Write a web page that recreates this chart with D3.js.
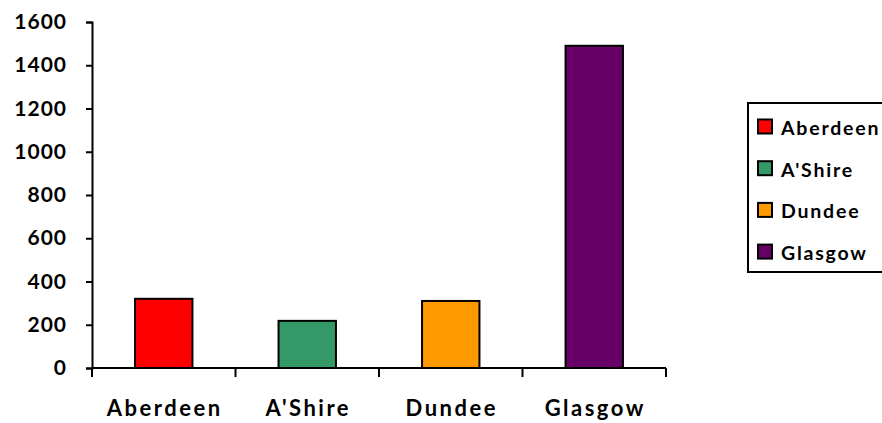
<!DOCTYPE html>
<html>
<head>
<meta charset="utf-8">
<script src="https://cdn.jsdelivr.net/npm/d3@7.9.0/dist/d3.min.js"></script>
<style>
  html, body { margin: 0; padding: 0; background: #fff; }
  svg { display: block; font-family: Lato, 'Open Sans', sans-serif; font-weight: bold; }
</style>
</head>
<body>
<div id="chart"></div>
<script>
// data
const regions = ['Aberdeen', "A'Shire", 'Dundee', 'Glasgow'];
const counts = [320, 218, 310, 1490];
const barColors = ['#ff0000', '#339966', '#ff9900', '#660066'];
const yTicks = [0, 200, 400, 600, 800, 1000, 1200, 1400, 1600];

const width = 882, height = 423;
const plot = { left: 92, right: 666, top: 22, bottom: 368 };

const svg = d3.select('#chart').append('svg')
  .attr('width', width)
  .attr('height', height);

const x = d3.scaleBand()
  .domain(regions)
  .range([plot.left, plot.right])
  .paddingInner(0.6)
  .paddingOuter(0.3);

const y = d3.scaleLinear()
  .domain([0, 1600])
  .range([plot.bottom, plot.top]);

/* ---------- bars ---------- */
svg.append('g')
  .selectAll('rect')
  .data(regions)
  .join('rect')
  .attr('x', d => x(d))
  .attr('y', (d, i) => y(counts[i]))
  .attr('width', x.bandwidth())
  .attr('height', (d, i) => y(0) - y(counts[i]))
  .attr('fill', (d, i) => barColors[i])
  .attr('stroke', '#000')
  .attr('stroke-width', 2);

/* ---------- y axis ---------- */
const yAxis = svg.append('g')
  .attr('transform', `translate(${plot.left},0)`)
  .call(d3.axisLeft(y).tickValues(yTicks).tickFormat(d3.format('d')).tickSize(6).tickPadding(19));
yAxis.select('.domain').attr('stroke-width', 2);
yAxis.selectAll('.tick line').attr('stroke-width', 2);
yAxis.selectAll('.tick text')
  .attr('font-size', 21)
  .attr('font-family', 'Lato, sans-serif')
  .attr('font-weight', 'bold')
  .attr('letter-spacing', 1)
  .attr('fill', '#000');

/* ---------- x axis (ticks between categories) ---------- */
const step = x.step();
const bounds = d3.range(regions.length + 1).map(i => plot.left + i * step);
const xg = svg.append('g');
xg.append('line')
  .attr('x1', plot.left).attr('x2', plot.right)
  .attr('y1', plot.bottom).attr('y2', plot.bottom)
  .attr('stroke', '#000').attr('stroke-width', 2);
xg.selectAll('line.tk')
  .data(bounds)
  .join('line')
  .attr('class', 'tk')
  .attr('x1', d => d).attr('x2', d => d)
  .attr('y1', plot.bottom).attr('y2', plot.bottom + 9)
  .attr('stroke', '#000').attr('stroke-width', 2);
xg.selectAll('text')
  .data(regions)
  .join('text')
  .attr('x', d => x(d) + x.bandwidth() / 2 + 1)
  .attr('y', 416)
  .attr('text-anchor', 'middle')
  .attr('font-size', 22)
  .attr('letter-spacing', 2.5)
  .text(d => d);

/* ---------- legend ---------- */
const legend = svg.append('g').attr('transform', 'translate(748,103)');
legend.append('rect')
  .attr('width', 160).attr('height', 169)
  .attr('fill', '#fff').attr('stroke', '#000').attr('stroke-width', 2);
const items = legend.selectAll('g.item')
  .data(regions)
  .join('g')
  .attr('class', 'item')
  .attr('transform', (d, i) => `translate(0,${23.5 + i * 41.7})`);
items.append('rect')
  .attr('x', 10).attr('y', -7)
  .attr('width', 14).attr('height', 14)
  .attr('fill', (d, i) => barColors[i])
  .attr('stroke', '#000').attr('stroke-width', 2);
items.append('text')
  .attr('x', 33).attr('y', 8.5)
  .attr('font-size', 19.5)
  .attr('letter-spacing', 1.8)
  .text(d => d);
</script>
</body>
</html>
